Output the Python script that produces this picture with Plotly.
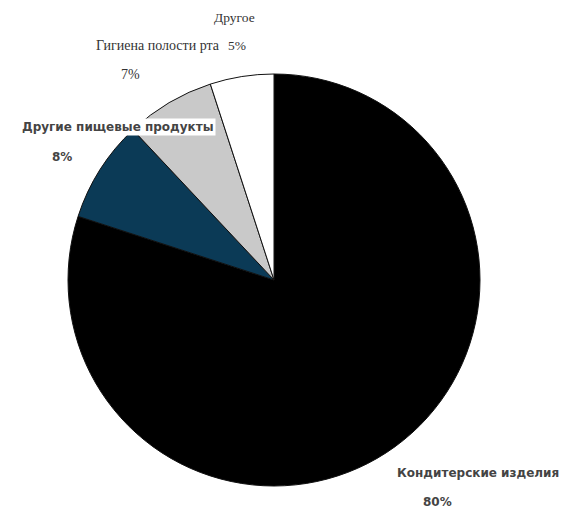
import plotly.graph_objects as go

# Data
categories = ["Кондитерские изделия", "Другие пищевые продукты", "Гигиена полости рта", "Другое"]
shares = [80, 8, 7, 5]

# Styles
slice_colors = ["#000000", "#0b3a56", "#c9c9c9", "#ffffff"]
# label position (px) and percent position (px), font family, size, weight
label_pos = [(478, 473), (118, 127), (158, 45), (234, 17)]
pct_pos = [(437, 502), (62, 157), (130, 74), (237, 45)]
label_fonts = ["DejaVu Sans", "DejaVu Sans", "Liberation Serif", "Liberation Serif"]
label_sizes = [12, 12, 14, 13.5]
label_weights = ["bold", "bold", "normal", "normal"]
label_colors = ["#444444", "#444444", "#333333", "#333333"]
label_bg = [None, "white", None, None]

W, H = 565, 509
cx, cy, r = 274, 280, 206

fig = go.Figure(go.Pie(
    labels=categories,
    values=shares,
    sort=False,
    direction="clockwise",
    rotation=0,
    marker=dict(colors=slice_colors, line=dict(color="#111111", width=1)),
    textinfo="none",
    hoverinfo="label+percent",
    showlegend=False,
    domain=dict(x=[(cx - r) / W, (cx + r) / W], y=[1 - (cy + r) / H, 1 - (cy - r) / H]),
))

annotations = []
for i, cat in enumerate(categories):
    lx, ly = label_pos[i]
    px, py = pct_pos[i]
    font = dict(family=label_fonts[i], size=label_sizes[i], color=label_colors[i],
                weight=label_weights[i])
    ann = dict(x=lx / W, y=1 - ly / H, xref="paper", yref="paper", text=cat,
               showarrow=False, font=font, xanchor="center", yanchor="middle")
    if label_bg[i]:
        ann["bgcolor"] = label_bg[i]
        ann["borderpad"] = 1
    annotations.append(ann)
    annotations.append(dict(x=px / W, y=1 - py / H, xref="paper", yref="paper",
                            text=f"{shares[i]}%", showarrow=False, font=font,
                            xanchor="center", yanchor="middle"))

fig.update_layout(
    width=W, height=H,
    margin=dict(l=0, r=0, t=0, b=0),
    paper_bgcolor="white", plot_bgcolor="white",
    annotations=annotations,
)

fig.write_html("out.html",
               config={"displayModeBar": False},
               post_script="document.body.style.margin='0';document.body.style.overflow='hidden';")
